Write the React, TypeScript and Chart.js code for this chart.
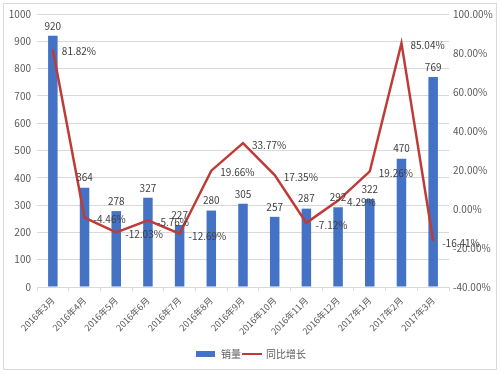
import React, { useEffect, useRef } from "react";
import { Chart, registerables } from "chart.js";

Chart.register(...registerables);

const categories = [
  "2016年3月", "2016年4月", "2016年5月", "2016年6月", "2016年7月", "2016年8月",
  "2016年9月", "2016年10月", "2016年11月", "2016年12月", "2017年1月", "2017年2月", "2017年3月",
];
const salesValues = [920, 364, 278, 327, 227, 280, 305, 257, 287, 292, 322, 470, 769];
const growthValues = [81.82, -4.46, -12.03, -5.76, -12.69, 19.66, 33.77, 17.35, -7.12, 4.29, 19.26, 85.04, -16.41];
const salesName = "销量";
const growthName = "同比增长";

const FONT = '"Noto Sans CJK SC", "Noto Sans", sans-serif';
const BAR_COLOR = "#4472C4";
const LINE_COLOR = "#BE3B38";
const TEXT_COLOR = "#595959";
const LABEL_COLOR = "#404040";
const GRID_COLOR = "#d9d9d9";

const decorPlugin = {
  id: "decor",
  beforeDraw(chart: any) {
    const ctx = chart.ctx;
    ctx.save();
    ctx.fillStyle = "#ffffff";
    ctx.fillRect(0, 0, chart.width, chart.height);
    ctx.strokeStyle = GRID_COLOR;
    ctx.lineWidth = 1;
    ctx.strokeRect(3.5, 3.5, 493, 366);
    ctx.restore();
  },
  afterDatasetsDraw(chart: any) {
    const ctx = chart.ctx;
    ctx.save();
    ctx.font = `10px ${FONT}`;
    ctx.fillStyle = LABEL_COLOR;
    const barMeta = chart.getDatasetMeta(0);
    ctx.textAlign = "center";
    ctx.textBaseline = "bottom";
    barMeta.data.forEach((el: any, i: number) => {
      ctx.fillText(String(salesValues[i]), el.x, el.y - 5);
    });
    const lineMeta = chart.getDatasetMeta(1);
    ctx.textAlign = "left";
    ctx.textBaseline = "middle";
    lineMeta.data.forEach((el: any, i: number) => {
      ctx.fillText(growthValues[i].toFixed(2) + "%", el.x + 9, el.y + 2);
    });
    ctx.restore();
  },
  afterDraw(chart: any) {
    const ctx = chart.ctx;
    ctx.save();
    const cy = 354;
    ctx.font = `10px ${FONT}`;
    ctx.textBaseline = "middle";
    ctx.textAlign = "left";
    ctx.fillStyle = BAR_COLOR;
    ctx.fillRect(196, cy - 3, 19, 6);
    ctx.fillStyle = TEXT_COLOR;
    ctx.fillText(salesName, 221, cy);
    ctx.strokeStyle = LINE_COLOR;
    ctx.lineWidth = 2;
    ctx.beginPath();
    ctx.moveTo(242, cy);
    ctx.lineTo(262, cy);
    ctx.stroke();
    ctx.fillStyle = TEXT_COLOR;
    ctx.fillText(growthName, 266, cy);
    ctx.restore();
  },
};

export default function App() {
  const ref = useRef<HTMLCanvasElement>(null);
  useEffect(() => {
    if (!ref.current) return;
    const chart = new Chart(ref.current, {
      type: "bar",
      data: {
        labels: categories,
        datasets: [
          {
            type: "bar",
            label: salesName,
            data: salesValues,
            backgroundColor: BAR_COLOR,
            yAxisID: "y",
            barPercentage: 0.3,
            categoryPercentage: 1,
            order: 1,
          },
          {
            type: "line",
            label: growthName,
            data: growthValues,
            borderColor: LINE_COLOR,
            backgroundColor: LINE_COLOR,
            borderWidth: 2.5,
            pointRadius: 0,
            tension: 0,
            yAxisID: "y1",
            order: 0,
          } as any,
        ],
      },
      options: {
        responsive: false,
        animation: false,
        layout: { padding: { left: 0, right: 0, top: 14, bottom: 0 } },
        plugins: {
          legend: { display: false },
          tooltip: { enabled: false },
        },
        scales: {
          x: {
            grid: {
              display: true,
              drawOnChartArea: false,
              drawTicks: true,
              tickLength: 4,
              color: GRID_COLOR,
              offset: true,
            },
            border: { display: true, color: GRID_COLOR },
            ticks: {
              color: TEXT_COLOR,
              font: { family: FONT, size: 9 },
              maxRotation: 45,
              minRotation: 45,
              autoSkip: false,
              padding: 4,
            },
            afterFit(scale: any) {
              scale.height = 88;
            },
          },
          y: {
            position: "left",
            min: 0,
            max: 1000,
            ticks: {
              stepSize: 100,
              color: TEXT_COLOR,
              font: { family: FONT, size: 10 },
              padding: 6,
              callback: (v: any) => String(v),
            },
            grid: { color: GRID_COLOR, drawTicks: false },
            border: { display: false },
            afterFit(scale: any) {
              scale.width = 37;
            },
          },
          y1: {
            position: "right",
            min: -40,
            max: 100,
            ticks: {
              stepSize: 20,
              color: TEXT_COLOR,
              font: { family: FONT, size: 10 },
              padding: 4,
              callback: (v: any) => Number(v).toFixed(2) + "%",
            },
            grid: { drawOnChartArea: false, drawTicks: false },
            border: { display: false },
            afterFit(scale: any) {
              scale.width = 52;
            },
          },
        },
      } as any,
      plugins: [decorPlugin],
    });
    return () => chart.destroy();
  }, []);
  return (
    <div style={{ position: "absolute", left: 0, top: 0, width: 501, height: 375 }}>
      <canvas ref={ref} width={501} height={375} style={{ display: "block", width: 501, height: 375 }} />
    </div>
  );
}
